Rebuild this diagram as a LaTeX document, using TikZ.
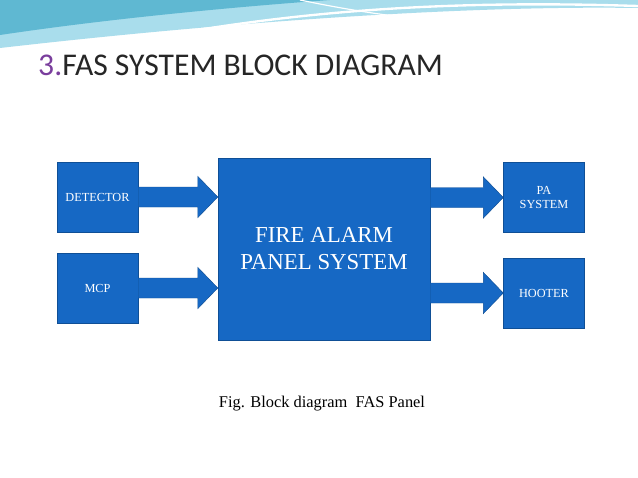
\documentclass[tikz,border=0pt]{standalone}
\usepackage{fontspec}
\setmainfont{Liberation Serif}
\newfontfamily\titlefont{Carlito}
\usetikzlibrary{calc}
\definecolor{boxblue}{HTML}{1668C4}
\definecolor{boxedge}{HTML}{0F4F96}
\definecolor{wavecyan}{HTML}{A9DDEC}
\definecolor{waveteal}{HTML}{5FB8D2}
\definecolor{titlepurple}{HTML}{7A3E9D}
\tikzset{
  block/.style={draw=boxedge, fill=boxblue, text=white, minimum width=2.43cm, minimum height=2.1cm, inner sep=2pt, font=\fontsize{10.5}{12.5}\selectfont},
  bigblock/.style={block, minimum width=6.36cm, minimum height=5.46cm, font=\fontsize{19.5}{23}\selectfont, align=center}
}
\newcommand\blockarrow[2]{%
  \fill[boxblue, draw=boxedge] let \p1=(#1), \p2=(#2) in
    (\x1,\y1+0.3cm) -- (\x2-0.6cm,\y1+0.3cm) -- (\x2-0.6cm,\y1+0.62cm) --
    (\x2,\y1) -- (\x2-0.6cm,\y1-0.62cm) -- (\x2-0.6cm,\y1-0.3cm) --
    (\x1,\y1-0.3cm) -- cycle;}
\begin{document}
\begin{tikzpicture}[x=0.03cm, y=-0.03cm]
\useasboundingbox[fill=white] (0,0) rectangle (638,478);
% top waves
\fill[wavecyan] (0,0) -- (638,0) -- (638,8) .. controls (450,5) and (200,25) .. (0,48) -- cycle;
\fill[waveteal] (0,0) -- (330,0) .. controls (220,8) and (100,20) .. (0,35) -- cycle;
\draw[white, line width=2pt] (140,40) .. controls (300,10) and (450,0) .. (638,6);
\draw[white, line width=1pt] (300,0) .. controls (420,25) and (520,30) .. (638,20);
% title
\node[anchor=base west, inner sep=0, font=\titlefont\fontsize{27}{28}\selectfont] (title) at (38,76)
  {\textcolor{titlepurple}{3.}\textcolor{black!85}{FAS SYSTEM BLOCK DIAGRAM}};
% blocks
\node[block] (det) at (97.5,197) {DETECTOR};
\node[block] (mcp) at (97.5,288) {MCP};
\node[bigblock] (fap) at (324,249) {FIRE ALARM\\PANEL SYSTEM};
\node[block, align=center] (pa) at (544,197.5) {PA\\SYSTEM};
\node[block] (hoot) at (544,293) {HOOTER};
% arrows
\blockarrow{det.east}{fap.west |- det.east}
\blockarrow{mcp.east}{fap.west |- mcp.east}
\blockarrow{fap.east |- pa.west}{pa.west}
\blockarrow{fap.east |- hoot.west}{hoot.west}
% caption
\node[font=\fontsize{14}{16}\selectfont] (cap) at (322,404) {Fig. Block diagram\ \ FAS Panel};
\end{tikzpicture}
\end{document}
